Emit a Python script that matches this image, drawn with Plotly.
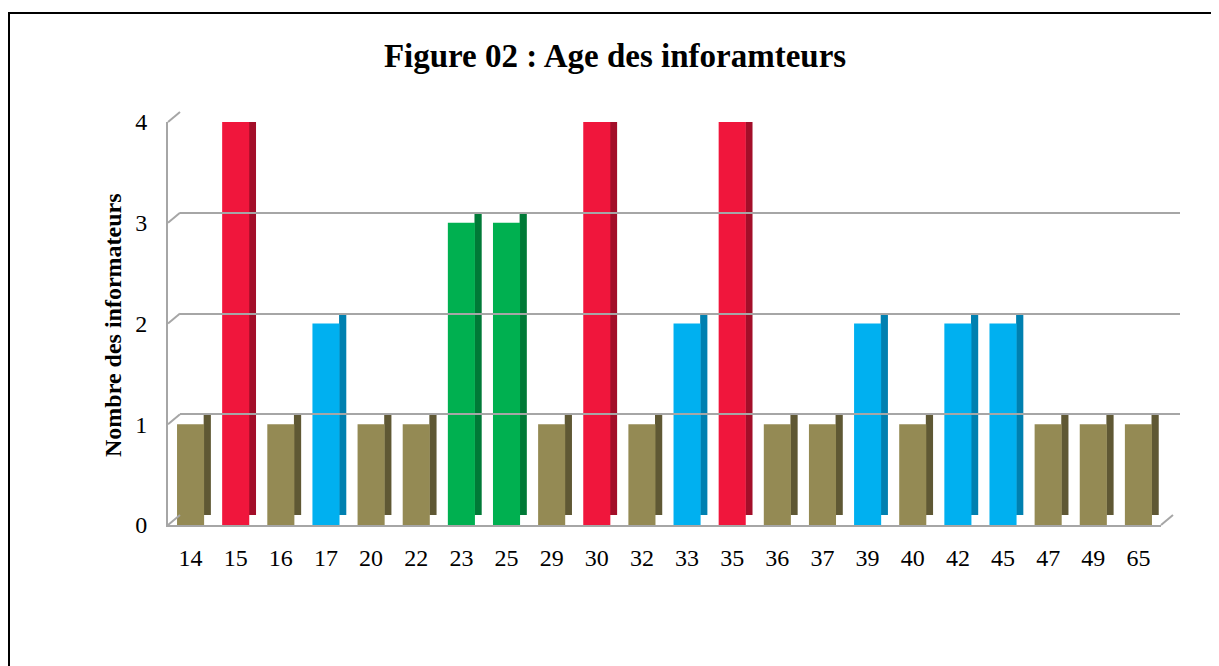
import plotly.graph_objects as go

# Données
ages = ["14", "15", "16", "17", "20", "22", "23", "25", "29", "30", "32",
        "33", "35", "36", "37", "39", "40", "42", "45", "47", "49", "65"]
effectifs = [1, 4, 1, 2, 1, 1, 3, 3, 1, 4, 1, 2, 4, 1, 1, 2, 1, 2, 2, 1, 1, 1]
y_ticks = [0, 1, 2, 3, 4]

# couleur par effectif (face avant, face latérale)
couleurs = {1: ("#948A54", "#5F5834"), 2: ("#00B0F0", "#0080B0"),
            3: ("#00B050", "#007A37"), 4: ("#F0163C", "#A30E29")}

# la page ajoute une marge de 8 px : positions visées décalées de 8 px
W, H = 1219, 666
L, R, T, B = 160, 47, 102, 149
pw, ph = W - L - R, H - T - B
dx, dy = 12, 10  # profondeur de l'effet 3D (px)
y0_px, y4_px = 517, 114

front = [couleurs[v][0] for v in effectifs]
side = [couleurs[v][1] for v in effectifs]
prof = dy / (y0_px - y4_px) * 4

fig = go.Figure()
# face latérale (plus sombre), décalée à droite
fig.add_trace(go.Bar(
    x=ages, y=effectifs, base=prof, width=0.16, offset=0.29,
    marker=dict(color=side, line_width=0), hoverinfo="skip", showlegend=False,
))
# face avant
fig.add_trace(go.Bar(
    x=ages, y=effectifs, width=0.6, offset=-0.3,
    marker=dict(color=front, line_width=0), showlegend=False,
    hovertemplate="Âge %{x}<br>%{y} informateur(s)<extra></extra>",
))
# paroi arrière : grille seule
fig.add_trace(go.Scatter(x=[None], y=[None], xaxis="x2", yaxis="y2", showlegend=False))

fx1 = (1153 - L) / pw
fy1 = (y0_px - y4_px) / ph
fig.update_layout(
    width=W, height=H,
    margin=dict(l=L, r=R, t=T, b=B),
    paper_bgcolor="white", plot_bgcolor="rgba(0,0,0,0)",
    barmode="overlay",
    font=dict(family="Liberation Serif, Times New Roman, serif", color="black"),
    title=dict(text="<b>Figure 02 : Age des inforamteurs</b>", x=607 / W, xanchor="center",
               y=1 - 47 / H, yanchor="middle", font=dict(size=33)),
    xaxis=dict(domain=[0, fx1], type="category", range=[-0.5, len(ages) - 0.5],
               showgrid=False, showline=True, linecolor="#A6A6A6", linewidth=2,
               tickfont=dict(size=24), ticks="", ticklabelstandoff=10, fixedrange=True),
    yaxis=dict(domain=[0, fy1], range=[0, 4], tickvals=y_ticks, showgrid=False,
               zeroline=False, showline=True, linecolor="#A6A6A6", linewidth=2,
               tickfont=dict(size=24), ticks="", ticklabelstandoff=14),
    xaxis2=dict(domain=[dx / pw, 1], range=[0, 1], anchor="y2", visible=False),
    yaxis2=dict(domain=[dy / ph, fy1 + dy / ph], range=[0, 4], tickvals=y_ticks,
                anchor="x2", showticklabels=False, showgrid=True,
                gridcolor="#A6A6A6", gridwidth=2, zeroline=False, showline=False),
)

shapes = []
# petites diagonales de la paroi gauche et du sol
for t in y_ticks:
    yf = fy1 * t / 4
    shapes.append(dict(type="line", xref="paper", yref="paper", x0=0, x1=dx / pw,
                       y0=yf, y1=yf + dy / ph, line=dict(color="#A6A6A6", width=2)))
shapes.append(dict(type="line", xref="paper", yref="paper", x0=fx1, x1=fx1 + dx / pw,
                   y0=0, y1=dy / ph, line=dict(color="#A6A6A6", width=2)))
# cadre noir
shapes.append(dict(type="rect", xref="paper", yref="paper",
                   x0=(1 - L) / pw, x1=(W + 10 - L) / pw,
                   y0=(-20 - B) / ph, y1=(H - 5 - B) / ph,
                   line=dict(color="black", width=2), fillcolor="rgba(0,0,0,0)"))
fig.update_layout(shapes=shapes)

fig.add_annotation(text="<b>Nombre des informateurs</b>", textangle=-90,
                   xref="paper", yref="paper", x=(105 - L) / pw, y=(H - 317 - B) / ph,
                   xanchor="center", yanchor="middle", showarrow=False,
                   font=dict(size=24))

fig.write_html("out.html")
